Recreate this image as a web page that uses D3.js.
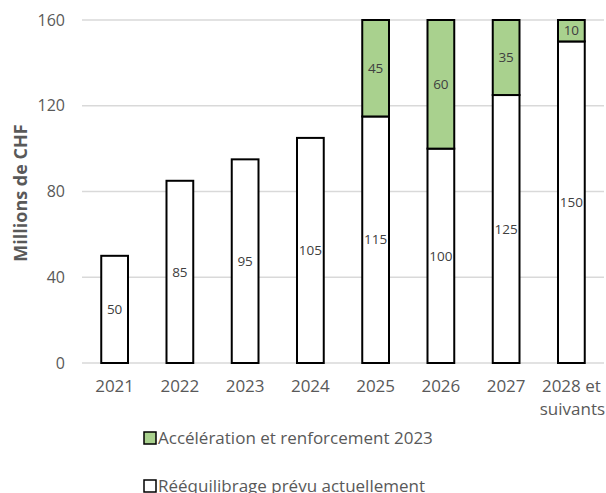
<!DOCTYPE html>
<html><head><meta charset="utf-8">
<script src="https://cdn.jsdelivr.net/npm/d3@7"></script>
<style>body{margin:0;background:#fff;} text{font-family:"Open Sans",sans-serif;}</style>
</head><body>
<svg id="c" width="606" height="493"></svg>
<script>
const categories = ["2021","2022","2023","2024","2025","2026","2027","2028 et suivants"];
const baseValues = [50,85,95,105,115,100,125,150];
const accelValues = [0,0,0,0,45,60,35,10];
const yTicks = [0,40,80,120,160];
const seriesNames = ["Accélération et renforcement 2023","Rééquilibrage prévu actuellement"];

const svg = d3.select("#c");
const x = d3.scaleBand().domain(categories).range([82,604]).paddingInner(0.59).paddingOuter(0.295);
const y = d3.scaleLinear().domain([0,160]).range([363,20]);

// gridlines
svg.append("g").selectAll("line").data(yTicks).join("line")
  .attr("x1",82).attr("x2",604).attr("y1",d=>y(d)).attr("y2",d=>y(d))
  .attr("stroke","#d9d9d9").attr("stroke-width",1.5);

// y axis labels
svg.append("g").selectAll("text").data(yTicks).join("text")
  .attr("x",65).attr("y",d=>y(d)).attr("dy","0.35em").attr("text-anchor","end")
  .attr("fill","#595959").style("font-size","16px").text(d=>d);

// y title
svg.append("text").attr("transform","translate(27,193) rotate(-90)")
  .attr("text-anchor","middle").attr("fill","#595959")
  .style("font-size","18px").style("font-weight","bold").text("Millions de CHF");

const bw = x.bandwidth();
// base bars
svg.append("g").selectAll("rect").data(categories).join("rect")
  .attr("x",d=>x(d)).attr("width",bw)
  .attr("y",(d,i)=>y(baseValues[i])).attr("height",(d,i)=>y(0)-y(baseValues[i]))
  .attr("fill","#fff").attr("stroke","#000").attr("stroke-width",2);
// accel bars
svg.append("g").selectAll("rect").data(categories.filter((d,i)=>accelValues[i]>0)).join("rect")
  .attr("x",d=>x(d)).attr("width",bw)
  .attr("y",d=>{const i=categories.indexOf(d);return y(baseValues[i]+accelValues[i]);})
  .attr("height",d=>{const i=categories.indexOf(d);return y(baseValues[i])-y(baseValues[i]+accelValues[i]);})
  .attr("fill","#a9d18e").attr("stroke","#000").attr("stroke-width",2);

// labels
svg.append("g").selectAll("text").data(categories).join("text")
  .attr("x",d=>x(d)+bw/2).attr("y",(d,i)=>y(baseValues[i]/2)).attr("dy","0.35em")
  .attr("text-anchor","middle").attr("fill","#404040").style("font-size","13.5px")
  .text((d,i)=>baseValues[i]);
svg.append("g").selectAll("text").data(categories.filter((d,i)=>accelValues[i]>0)).join("text")
  .attr("x",d=>x(d)+bw/2)
  .attr("y",d=>{const i=categories.indexOf(d);return y(baseValues[i]+accelValues[i]/2);}).attr("dy","0.35em")
  .attr("text-anchor","middle").attr("fill","#404040").style("font-size","13.5px")
  .text(d=>accelValues[categories.indexOf(d)]);

// x labels
const xl = svg.append("g").selectAll("text").data(categories).join("text")
  .attr("x",d=>x(d)+bw/2).attr("y",386).attr("dy","0.35em")
  .attr("text-anchor","middle").attr("fill","#595959").style("font-size","17px");
xl.each(function(d){
  const t=d3.select(this);
  if(d==="2028 et suivants"){
    t.append("tspan").attr("x",x(d)+bw/2).text("2028 et");
    t.append("tspan").attr("x",x(d)+bw/2+1).attr("dy","23").text("suivants");
  } else t.text(d);
});

// legend
const legColors = ["#a9d18e","#fff"];
const lg = svg.append("g").selectAll("g").data(seriesNames).join("g")
  .attr("transform",(d,i)=>`translate(144,${438+i*48})`);
lg.append("rect").attr("x",0).attr("y",-6).attr("width",12).attr("height",12)
  .attr("fill",(d,i)=>legColors[i]).attr("stroke","#000").attr("stroke-width",1.5);
lg.append("text").attr("x",14).attr("y",0).attr("dy","0.35em")
  .attr("fill","#595959").style("font-size","17px").text(d=>d);
</script>
</body></html>
